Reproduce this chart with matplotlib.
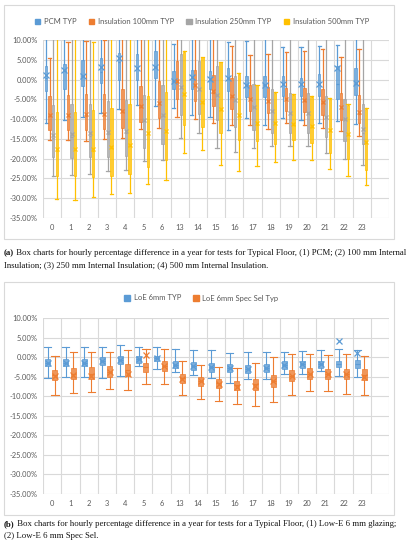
import matplotlib
matplotlib.use('Agg')
import matplotlib.pyplot as plt
import matplotlib.patches as mpatches
from matplotlib.ticker import FuncFormatter
from matplotlib.colors import to_rgba
import numpy as np

hours = ['0', '1', '2', '3', '4', '5', '6', '13', '14', '15', '16', '17', '18', '19', '20', '21', '22', '23']

# ---- chart (a): typical floor ----
pcm_hi = [12, 12, 12, 12, 12, 12, 12, 8.9, 11, 11, 9.5, 9.7, 11, 8.2, 8.2, 8.5, 8.8, 11]
pcm_q3 = [3.4, 3.9, 5.0, 5.4, 6.6, 6.5, 7.3, 2.1, 2.5, 2.2, 2.8, 0.9, 0.9, 0.8, 0.3, 1.4, 3.4, 2.9]
pcm_med = [0.4, 2.2, 0.8, 2.0, 4.4, 3.0, 3.2, -0.3, 0.3, -0.1, 0.3, -1.5, -1.5, -1.2, -1.3, -1.2, -1.2, -1.0]
pcm_q1 = [-3.0, -2.5, -1.7, -0.8, 0.0, 0.0, 0.3, -2.5, -2.5, -2.3, -2.8, -4.5, -4.5, -4.2, -4.2, -4.2, -5.0, -4.0]
pcm_lo = [-11.1, -10.3, -9.4, -8.5, -7.5, -6.4, -6.8, -7.1, -8.9, -9.5, -12.7, -9.7, -11.5, -9.7, -10.3, -11.0, -10.6, -11.2]
pcm_mean = [1.1, 2.5, 0.9, 3.3, 5.4, 3.0, 3.3, -0.4, 0.6, 0.1, 0.3, -1.5, -1.5, -1.2, -1.2, -1.2, 2.95, -0.8]

ins100_hi = [5.4, 9.4, 9.7, 9.9, 12, 12, 12, 12, 12, 12, 8.5, 6.2, 6.5, 7.0, 7.1, 7.8, 5.6, 7.8]
ins100_q3 = [-4.2, -3.9, -3.75, -3.6, -2.5, -1.7, -0.4, 4.6, 2.5, 1.1, 0.5, -1.3, -2.0, -2.1, -2.1, -2.3, -3.4, -3.8]
ins100_med = [-9.3, -9.2, -9.1, -8.9, -8.3, -6.9, -6.1, -0.6, -1.5, -3.3, -4.4, -5.0, -5.5, -5.2, -5.4, -6.0, -7.2, -8.6]
ins100_q1 = [-12.7, -12.75, -12.7, -12.6, -12.25, -10.8, -9.6, -5.0, -5.4, -6.6, -7.5, -8.0, -8.4, -8.0, -8.2, -9.0, -10.3, -11.0]
ins100_lo = [-15.4, -15.4, -15.5, -15.1, -14.9, -12.5, -12.3, -9.4, -10.0, -10.9, -11.5, -11.5, -12.5, -11.0, -11.4, -12.2, -13.0, -14.3]
ins100_mean = [-9.0, -9.0, -8.8, -8.6, -8.0, -6.7, -5.9, -0.4, -1.4, -3.0, -4.2, -4.9, -5.3, -5.0, -5.2, -5.8, -7.0, -8.3]

ins250_hi = [12] * 18
ins250_q3 = [-6.4, -6.1, -6.1, -5.4, -5.25, -3.9, -1.4, 6.4, 4.6, 3.5, 0.9, -1.0, -2.5, -3.3, -3.3, -4.2, -4.9, -6.1]
ins250_med = [-14.8, -14.5, -14.2, -13.8, -13.5, -10.5, -9.3, -2.2, -2.5, -4.0, -5.0, -7.0, -8.0, -8.5, -8.5, -9.5, -10.0, -13.4]
ins250_q1 = [-19.7, -19.75, -19.6, -19.6, -19.4, -17.25, -16.4, -8.9, -8.75, -10.3, -11.9, -12.7, -13.5, -13.6, -13.6, -14.5, -15.5, -16.2]
ins250_lo = [-24.3, -24.2, -24.0, -23.0, -22.9, -20.7, -20.4, -14.75, -13.6, -17.2, -18.4, -17.2, -16.7, -16.8, -16.7, -18.5, -20.0, -21.7]
ins250_mean = [-14.0, -13.8, -13.6, -13.2, -13.0, -10.3, -9.0, -2.0, -2.3, -3.8, -5.2, -7.0, -8.0, -8.4, -8.4, -9.4, -10.0, -12.5]

ins500_hi = [12, 12, 9.5, 12, 12, 12, 12, 7.2, 5.8, 4.5, 1.6, -1.3, -3.1, -3.6, -4.2, -4.6, -6.2, -7.3]
ins500_q3 = [-8.1, -8.1, -7.7, -7.25, -6.25, -4.2, -3.1, 6.9, 5.6, 4.4, 1.4, -1.5, -3.3, -3.8, -4.4, -4.8, -6.4, -7.5]
ins500_med = [-18.0, -17.9, -18.0, -17.25, -16.7, -13.8, -13.2, -3.8, -5.9, -7.6, -9.3, -11.5, -11.0, -11.5, -12.0, -13.0, -14.0, -16.0]
ins500_q1 = [-24.3, -24.4, -24.6, -24.3, -24.0, -22.0, -20.4, -11.5, -12.0, -13.4, -15.3, -15.6, -16.2, -15.3, -16.0, -18.5, -20.0, -22.9]
ins500_lo = [-30.2, -30.4, -29.8, -29.0, -28.6, -26.3, -25.5, -18.6, -17.9, -21.5, -23.0, -21.8, -20.9, -20.4, -20.4, -22.5, -24.4, -26.7]
ins500_mean = [-17.5, -17.5, -17.5, -17.0, -16.5, -13.5, -13.0, -3.6, -5.7, -7.5, -9.0, -11.0, -11.0, -11.3, -11.8, -12.8, -13.8, -15.8]

# ---- chart (b): glazing ----
loe_hi = [2.7, 2.7, 2.7, 2.7, 3.2, 2.5, 2.7, 2.05, 1.9, 1.7, 1.0, 1.2, 1.2, 1.3, 1.5, 1.7, 2.1, 1.9]
loe_q3 = [-0.5, -0.5, -0.4, 0.0, 0.2, 0.2, 0.3, -1.1, -1.2, -1.5, -1.7, -2.0, -1.7, -1.1, -0.9, -0.9, -0.9, -0.7]
loe_med = [-1.5, -1.4, -1.4, -0.9, -0.7, -0.5, -0.3, -2.0, -2.2, -2.6, -2.8, -3.0, -2.8, -2.0, -1.7, -1.7, -1.7, -1.7]
loe_q1 = [-2.4, -2.4, -2.4, -2.0, -1.7, -1.4, -1.1, -2.8, -3.2, -3.7, -3.9, -4.1, -3.9, -3.1, -2.8, -2.8, -2.6, -2.8]
loe_lo = [-5.4, -5.1, -5.0, -5.4, -4.8, -2.4, -3.1, -3.9, -4.7, -5.4, -6.5, -5.6, -5.5, -4.3, -4.3, -3.5, -4.8, -5.0]
loe_mean = [-1.4, -1.4, -1.4, -0.9, -0.7, -0.5, -0.3, -2.0, -2.2, -2.6, -2.8, -3.0, -2.8, -2.0, -1.7, -1.7, 4.0, 1.0]

spec_hi = [0.4, 1.2, 1.2, 1.2, 1.9, 2.1, 2.1, -1.1, -2.0, -2.6, -2.8, -1.5, 0.0, 0.8, 0.9, 0.6, 0.8, 0.3]
spec_q3 = [-3.2, -2.8, -2.6, -2.2, -1.7, -1.4, -0.9, -4.3, -5.1, -5.6, -6.0, -5.5, -4.7, -3.4, -2.8, -3.0, -3.0, -3.1]
spec_med = [-4.5, -4.2, -4.3, -3.8, -3.4, -2.5, -2.2, -5.4, -6.2, -6.7, -7.2, -7.0, -6.2, -4.8, -4.3, -4.3, -4.3, -4.5]
spec_q1 = [-5.8, -5.6, -5.6, -5.1, -4.8, -3.8, -3.5, -6.5, -7.4, -7.9, -8.5, -8.4, -7.7, -6.1, -5.6, -5.6, -5.6, -5.8]
spec_lo = [-9.8, -9.2, -8.8, -8.1, -8.4, -6.9, -6.8, -9.7, -10.7, -11.1, -12.0, -12.5, -11.4, -9.8, -8.6, -8.6, -9.5, -9.7]
spec_mean = [-4.8, -4.5, -4.8, -3.7, -4.3, 0.6, -2.4, -5.5, -6.2, -6.8, -7.7, -7.3, -6.2, -4.8, -4.3, -4.3, -4.3, -5.1]

BLUE, ORANGE, GRAY, YELLOW = '#5B9BD5', '#ED7D31', '#A5A5A5', '#FFC000'
GRID = '#d9d9d9'
TXT = '#595959'
UI_FONT = 'Lato'

W, H = 414, 550
fig = plt.figure(figsize=(W / 100, H / 100), dpi=100)


def px_axes(left, top, right, bottom):
    return fig.add_axes([left / W, 1 - bottom / H, (right - left) / W, (bottom - top) / H])


def make_stats(lo, q1, med, q3, hi, mean):
    return [dict(whislo=a, q1=b, med=c, q3=d, whishi=e, mean=f, fliers=[])
            for a, b, c, d, e, f in zip(lo, q1, med, q3, hi, mean)]


def draw(ax, stats, offset, color, width, lw, msize):
    pos = np.arange(len(hours)) + offset
    ax.bxp(stats, positions=pos, widths=width, capwidths=width * 1.4,
           patch_artist=True, showmeans=True, showfliers=False, manage_ticks=False,
           boxprops=dict(facecolor=to_rgba(color, 0.8), edgecolor=color, linewidth=0.5),
           whiskerprops=dict(color=color, linewidth=lw),
           capprops=dict(color=color, linewidth=lw),
           medianprops=dict(color=color, linewidth=lw),
           meanprops=dict(marker='x', markeredgecolor=color, markersize=msize, markeredgewidth=0.9))


def style(ax):
    ax.set_xlim(-0.5, 18.5)
    ax.set_ylim(-35, 10)
    ax.set_yticks(np.arange(-35, 10.1, 5))
    ax.yaxis.set_major_formatter(FuncFormatter(lambda v, p: '%.2f%%' % v))
    ax.set_xticks(np.arange(len(hours)))
    ax.set_xticklabels(hours)
    ax.set_xticks(np.arange(-0.5, 19, 1), minor=True)
    ax.grid(True, which='major', axis='y', color=GRID, linewidth=0.8)
    ax.grid(True, which='minor', axis='x', color=GRID, linewidth=0.8)
    ax.set_axisbelow(True)
    for s in ax.spines.values():
        s.set_visible(False)
    ax.tick_params(which='both', length=0, labelsize=5.4, labelcolor=TXT, pad=4)
    for lab in ax.get_xticklabels() + ax.get_yticklabels():
        lab.set_family(UI_FONT)


def legend(names, colors, cx, cy):
    handles = [mpatches.Patch(facecolor=c, edgecolor=c) for c in colors]
    leg = fig.legend(handles, names, loc='center', bbox_to_anchor=(cx / W, 1 - cy / H),
                     ncol=len(names), frameon=False, handlelength=0.7, handleheight=0.7,
                     handletextpad=0.5, columnspacing=1.6,
                     prop=dict(family=UI_FONT, size=5.5))
    for t in leg.get_texts():
        t.set_color(TXT)


def frame(x0, y0, x1, y1):
    fig.patches.append(mpatches.Rectangle((x0 / W, 1 - y1 / H), (x1 - x0) / W, (y1 - y0) / H,
                                          transform=fig.transFigure, fill=False,
                                          edgecolor=GRID, linewidth=0.8))


def caption(y, label, line1, line2):
    r = fig.canvas.get_renderer()
    kw = dict(family='Liberation Serif', size=6.35, color='#111111', va='center')
    t = fig.text(4 / W, 1 - y / H, label, weight='bold', **kw)
    bb = t.get_window_extent(r)
    fig.text(bb.x1 / W, 1 - y / H, line1, **kw)
    fig.text(4 / W, 1 - (y + 12.5) / H, line2, **kw)


# chart (a)
frame(4, 5, 394, 239)
ax1 = px_axes(43.3, 40, 389.1, 218)
style(ax1)
draw(ax1, make_stats(pcm_lo, pcm_q1, pcm_med, pcm_q3, pcm_hi, pcm_mean), -0.34, BLUE, 0.13, 0.9, 4.5)
draw(ax1, make_stats(ins100_lo, ins100_q1, ins100_med, ins100_q3, ins100_hi, ins100_mean), -0.15, ORANGE, 0.13, 0.9, 3)
draw(ax1, make_stats(ins250_lo, ins250_q1, ins250_med, ins250_q3, ins250_hi, ins250_mean), 0.05, GRAY, 0.13, 0.9, 3)
draw(ax1, make_stats(ins500_lo, ins500_q1, ins500_med, ins500_q3, ins500_hi, ins500_mean), 0.24, YELLOW, 0.13, 0.9, 3)
legend(['PCM TYP', 'Insulation 100mm TYP', 'Insulation 250mm TYP', 'Insulation 500mm TYP'],
       [BLUE, ORANGE, GRAY, YELLOW], 202, 21.7)

# chart (b)
frame(4, 282, 394, 515)
ax2 = px_axes(43.3, 318, 389.1, 494)
style(ax2)
draw(ax2, make_stats(loe_lo, loe_q1, loe_med, loe_q3, loe_hi, loe_mean), -0.26, BLUE, 0.28, 0.8, 4.5)
draw(ax2, make_stats(spec_lo, spec_q1, spec_med, spec_q3, spec_hi, spec_mean), 0.14, ORANGE, 0.28, 0.8, 4.5)
legend(['LoE 6mm TYP', 'LoE 6mm Spec Sel Typ'], [BLUE, ORANGE], 201.5, 298)

caption(253, '(a)', ' Box charts for hourly percentage difference in a year for tests for Typical Floor, (1) PCM; (2) 100 mm Internal',
        'Insulation; (3) 250 mm Internal Insulation; (4) 500 mm Internal Insulation.')
caption(524, '(b)', ' Box charts for hourly percentage difference in a year for tests for a Typical Floor, (1) Low-E 6 mm glazing;',
        '(2) Low-E 6 mm Spec Sel.')

fig.savefig('out.png', dpi=100, facecolor='white')
